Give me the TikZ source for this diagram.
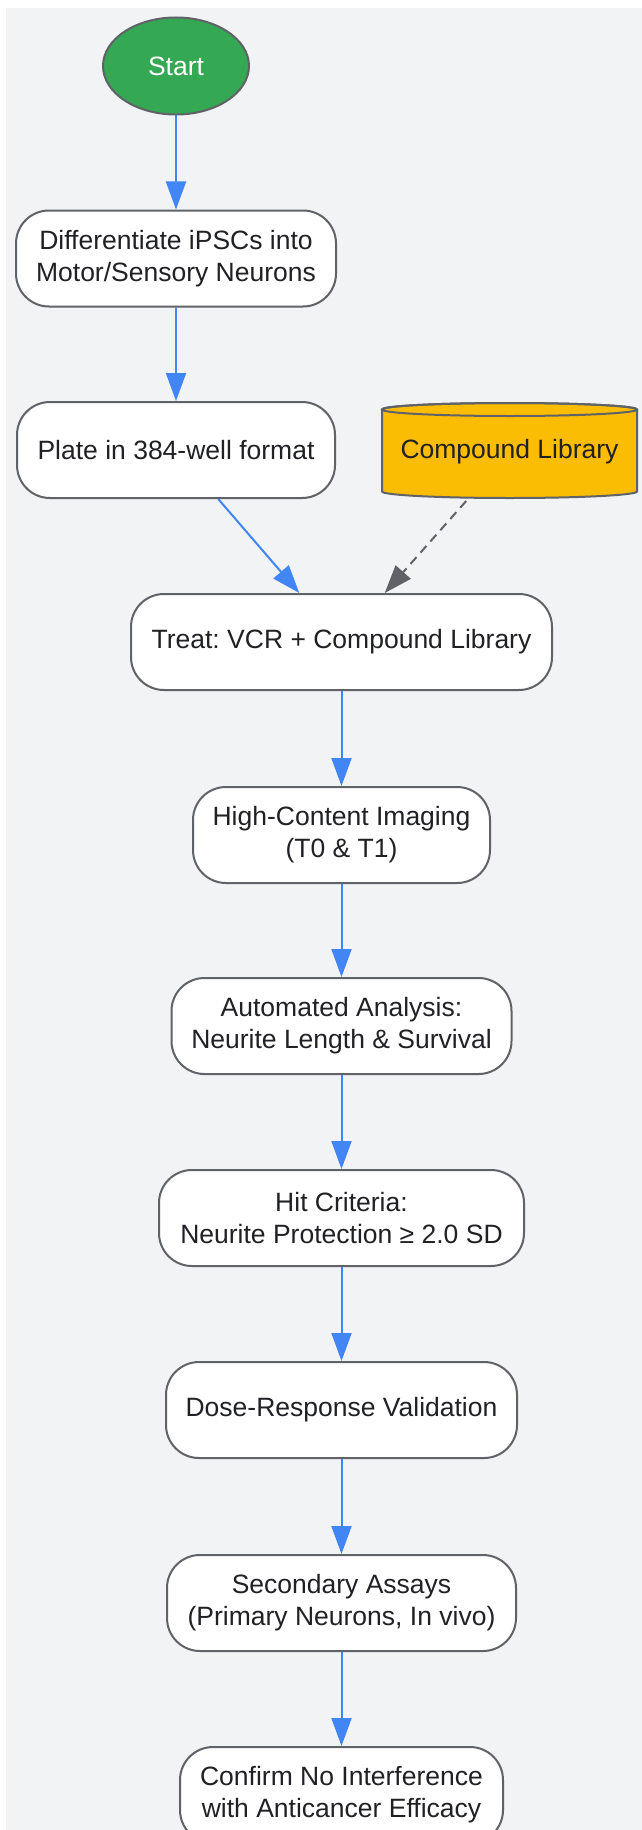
\documentclass[tikz,border=0pt]{standalone}
\usepackage{fontspec}
\setmainfont{Liberation Sans}
\frenchspacing
\usetikzlibrary{shapes.geometric,arrows.meta}

\definecolor{bggrey}{HTML}{F1F3F4}
\definecolor{edgegrey}{HTML}{5F6368}
\definecolor{txtdark}{HTML}{202124}
\definecolor{gblue}{HTML}{4285F4}
\definecolor{ggreen}{HTML}{34A853}
\definecolor{gyellow}{HTML}{FBBC04}

\begin{document}
\begin{tikzpicture}[
                x=1pt,y=-1pt,
                line width=2pt,
                font=\fontsize{26.5}{32}\selectfont,
                stepbox/.style={draw=edgegrey,fill=white,text=txtdark,align=center,
                                rounded corners=33pt,minimum height=96pt,inner sep=6pt},
                startnode/.style={ellipse,draw=edgegrey,fill=ggreen,text=white,
                                minimum width=146pt,minimum height=97pt,inner sep=0pt},
                flow/.style={gblue,-{Triangle[length=28pt,width=20pt]}},
                dashflow/.style={edgegrey,dash pattern=on 9pt off 6pt,-{Triangle[length=28pt,width=20pt]}}] %

\useasboundingbox (0,0) rectangle (642,1830);
\fill[bggrey] (6,8) rectangle (642,1830);

                    % start
                    \node[startnode] (START) at (176,66) {Start};

                    % 1
                    \node[stepbox,minimum width=320pt] (DIFF) at (176,258.5) {Differentiate iPSCs into\\Motor/Sensory Neurons};
                    \path [flow] (START) edge (DIFF);

                    % 2
                    \node[stepbox,minimum width=318pt] (PLATE) at (176,450) {Plate in 384-well format};
                    \path [flow] (DIFF) edge (PLATE);

                    % library
                    \filldraw[draw=edgegrey,fill=gyellow] (382,409.5) -- (382,491.5)
                      arc[start angle=180,end angle=0,x radius=127.5,y radius=6.5] -- (637,409.5)
                      arc[start angle=0,end angle=-180,x radius=127.5,y radius=6.5] -- cycle;
                    \draw[edgegrey] (509.5,409.5) ellipse [x radius=127.5,y radius=6.5];
                    \node[text=txtdark,minimum width=255pt,minimum height=96pt,inner sep=0pt] (LIB) at (509.5,452) {Compound Library};

                    % 3
                    \node[stepbox,minimum width=421pt] (TREAT) at (341.5,642) {Treat: VCR + Compound Library};
                    \path [flow] (PLATE) edge (TREAT);
                    \path [dashflow] (LIB) edge (TREAT);

                    % 4
                    \node[stepbox,minimum width=297pt] (IMG) at (341.5,835) {High-Content Imaging\\(T0 \& T1)};
                    \path [flow] (TREAT) edge (IMG);

                    % 5
                    \node[stepbox,minimum width=340pt] (ANALYSIS) at (341.5,1026) {Automated Analysis:\\Neurite Length \& Survival};
                    \path [flow] (IMG) edge (ANALYSIS);

                    % 6
                    \node[stepbox,minimum width=365pt] (HIT) at (341.5,1218) {Hit Criteria:\\Neurite Protection ≥ 2.0 SD};
                    \path [flow] (ANALYSIS) edge (HIT);

                    % 7
                    \node[stepbox,minimum width=351pt] (DOSE) at (341.5,1410) {Dose-Response Validation};
                    \path [flow] (HIT) edge (DOSE);

                    % 8
                    \node[stepbox,minimum width=349pt] (SEC) at (341.5,1603) {Secondary Assays\\(Primary Neurons, In vivo)};
                    \path [flow] (DOSE) edge (SEC);

                    % 9
                    \node[stepbox,minimum width=323pt] (CONFIRM) at (341.5,1795) {Confirm No Interference\\with Anticancer Efficacy};
                    \path [flow] (SEC) edge (CONFIRM);

\end{tikzpicture}
\end{document}
